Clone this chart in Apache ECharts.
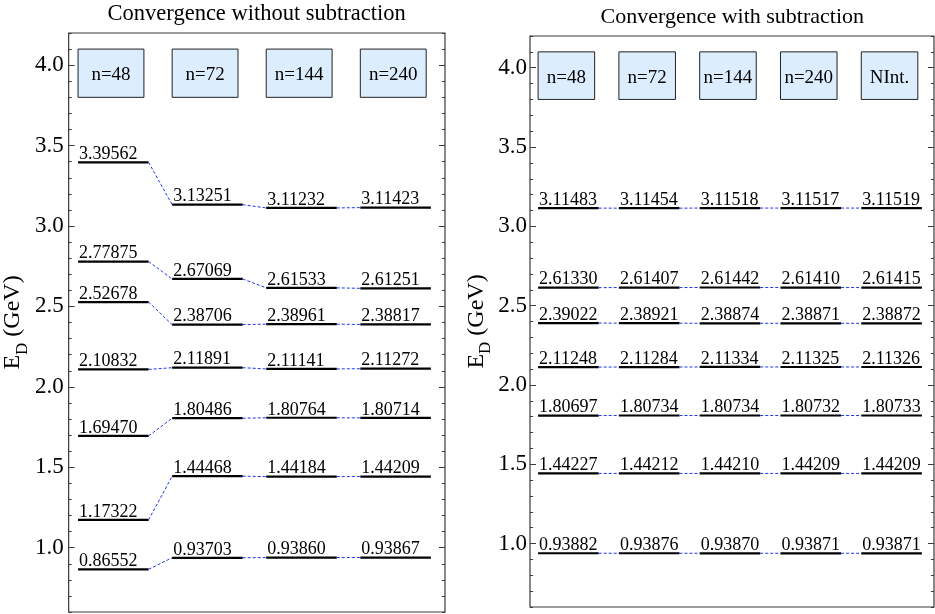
<!DOCTYPE html>
<html>
<head>
<meta charset="utf-8">
<title>Convergence</title>
<script src="https://cdn.jsdelivr.net/npm/echarts@6/dist/echarts.min.js"></script>
<style>
  html, body { margin: 0; padding: 0; background: #fff; }
  #main { width: 935px; height: 614px; }
</style>
</head>
<body>
<div id="main"></div>
<script>
// energy levels, one array per column (GeV)
var woLabels = ['n=48', 'n=72', 'n=144', 'n=240'];
var wo48  = [0.86552, 1.17322, 1.69470, 2.10832, 2.52678, 2.77875, 3.39562];
var wo72  = [0.93703, 1.44468, 1.80486, 2.11891, 2.38706, 2.67069, 3.13251];
var wo144 = [0.93860, 1.44184, 1.80764, 2.11141, 2.38961, 2.61533, 3.11232];
var wo240 = [0.93867, 1.44209, 1.80714, 2.11272, 2.38817, 2.61251, 3.11423];

var wLabels = ['n=48', 'n=72', 'n=144', 'n=240', 'NInt.'];
var w48   = [0.93882, 1.44227, 1.80697, 2.11248, 2.39022, 2.61330, 3.11483];
var w72   = [0.93876, 1.44212, 1.80734, 2.11284, 2.38921, 2.61407, 3.11454];
var w144  = [0.93870, 1.44210, 1.80734, 2.11334, 2.38874, 2.61442, 3.11518];
var w240  = [0.93871, 1.44209, 1.80732, 2.11325, 2.38871, 2.61410, 3.11517];
var wNInt = [0.93871, 1.44209, 1.80733, 2.11326, 2.38872, 2.61415, 3.11519];

var majorLabels = ['1.0', '1.5', '2.0', '2.5', '3.0', '3.5', '4.0'];

var FONT = 'Liberation Serif, serif';
var FRAME = '#3a3a3a';

// tick categories 0.6 .. 4.2 (step 0.1) used for the major ticks / labels
var yCats = [];
for (var i = 6; i <= 42; i++) yCats.push((i / 10).toFixed(1));
function isMajor(idx, val) { return majorLabels.indexOf(val) >= 0; }

function levelData(cols) {
  var d = [];
  cols.forEach(function (vals, c) {
    vals.forEach(function (v, k) {
      d.push([c, v, c + 1 < cols.length ? cols[c + 1][k] : null]);
    });
  });
  return d;
}

function renderLevel(params, api) {
  var c = api.value(0), v = api.value(1), nx = api.value(2);
  var p0 = api.coord([c + 0.1, v]);
  var p1 = api.coord([c + 0.85, v]);
  var kids = [{
    type: 'line',
    shape: { x1: p0[0], y1: p0[1], x2: p1[0], y2: p1[1] },
    style: { stroke: '#000', lineWidth: 2.2 }
  }, {
    type: 'text',
    style: {
      text: v.toFixed(5), x: p0[0] + 1, y: p0[1] + 1,
      align: 'left', verticalAlign: 'bottom',
      fontSize: 18, fontFamily: FONT, fill: '#000'
    }
  }];
  if (isFinite(nx) && nx !== null) {
    var p2 = api.coord([c + 1.1, nx]);
    kids.push({
      type: 'line',
      shape: { x1: p1[0], y1: p1[1], x2: p2[0], y2: p2[1] },
      style: { stroke: '#2035f5', lineWidth: 1, lineDash: [3, 2] }
    });
  }
  return { type: 'group', children: kids };
}

function boxRenderer(labels) {
  return function (params, api) {
    var c = api.value(0);
    var a = api.coord([c + 0.1, 4.1]);
    var b = api.coord([c + 0.8, 3.8]);
    return {
      type: 'group',
      children: [{
        type: 'rect',
        shape: { x: a[0], y: a[1], width: b[0] - a[0], height: b[1] - a[1] },
        style: { fill: '#dcedfd', stroke: '#222', lineWidth: 1 }
      }, {
        type: 'text',
        z2: 10,
        style: {
          text: labels[params.dataIndex], x: (a[0] + b[0]) / 2, y: (a[1] + b[1]) / 2 + 2,
          align: 'center', verticalAlign: 'middle',
          fontSize: 19, fontFamily: FONT, fill: '#000'
        }
      }]
    };
  };
}

function valueY(grid, pos) {
  return {
    type: 'value', gridIndex: grid, position: pos, min: 0.6, max: 4.2, interval: 0.1,
    axisLine: { show: false },
    axisTick: { show: true, inside: true, length: 3, lineStyle: { color: FRAME, width: 1 } },
    axisLabel: { show: false }, splitLine: { show: false }
  };
}

function majorY(grid, pos, withLabels, margin, nameGap) {
  var ax = {
    type: 'category', gridIndex: grid, position: pos, data: yCats, boundaryGap: false,
    axisLine: { show: false },
    axisTick: { show: true, inside: true, length: 6, interval: isMajor, lineStyle: { color: FRAME, width: 1 } },
    axisLabel: {
      show: withLabels, interval: isMajor, margin: margin,
      formatter: function (val) { return '{t|' + val + '}'; },
      rich: { t: { fontSize: 23, fontFamily: FONT, color: '#000' } },
      fontSize: 23, fontFamily: FONT, color: '#000'
    },
    splitLine: { show: false }
  };
  if (withLabels) {
    ax.name = '{a|E}{b|D}{a| (GeV)}';
    ax.nameLocation = 'middle';
    ax.nameGap = nameGap;
    ax.nameTextStyle = {
      color: '#000', fontFamily: FONT, fontSize: 24,
      rich: {
        a: { fontFamily: FONT, fontSize: 24, lineHeight: 36, color: '#000' },
        b: { fontFamily: FONT, fontSize: 17, lineHeight: 17, verticalAlign: 'bottom', color: '#000' }
      }
    };
  }
  return ax;
}

var chart = echarts.init(document.getElementById('main'), null, { renderer: 'canvas' });

chart.setOption({
  animation: false,
  backgroundColor: '#fff',
  textStyle: { fontFamily: FONT },
  title: [{
    text: 'Convergence without subtraction', left: 256.7, top: 3, textAlign: 'center', padding: 0,
    textStyle: { fontFamily: FONT, fontSize: 22.5, fontWeight: 'normal', color: '#000' }
  }, {
    text: 'Convergence with subtraction', left: 732.3, top: 6, textAlign: 'center', padding: 0,
    textStyle: { fontFamily: FONT, fontSize: 22, fontWeight: 'normal', color: '#000' }
  }],
  grid: [
    { left: 68, top: 33, width: 377, height: 579, show: true, borderColor: FRAME, borderWidth: 1.2, backgroundColor: 'transparent' },
    { left: 530, top: 36, width: 404, height: 571, show: true, borderColor: FRAME, borderWidth: 1.2, backgroundColor: 'transparent' }
  ],
  xAxis: [
    { type: 'value', gridIndex: 0, min: 0, max: woLabels.length, show: false },
    { type: 'value', gridIndex: 1, min: 0, max: wLabels.length, show: false }
  ],
  yAxis: [
    valueY(0, 'left'), valueY(0, 'right'),
    majorY(0, 'left', true, 5, 31), majorY(0, 'right', false, 5, 0),
    valueY(1, 'left'), valueY(1, 'right'),
    majorY(1, 'left', true, 3, 31), majorY(1, 'right', false, 3, 0)
  ],
  series: [
    {
      type: 'custom', xAxisIndex: 0, yAxisIndex: 0, clip: false, z: 3,
      data: woLabels.map(function (s, i) { return [i, 4]; }),
      renderItem: boxRenderer(woLabels)
    },
    {
      type: 'custom', xAxisIndex: 0, yAxisIndex: 0, clip: false,
      data: levelData([wo48, wo72, wo144, wo240]),
      renderItem: renderLevel
    },
    {
      type: 'custom', xAxisIndex: 1, yAxisIndex: 4, clip: false, z: 3,
      data: wLabels.map(function (s, i) { return [i, 4]; }),
      renderItem: boxRenderer(wLabels)
    },
    {
      type: 'custom', xAxisIndex: 1, yAxisIndex: 4, clip: false,
      data: levelData([w48, w72, w144, w240, wNInt]),
      renderItem: renderLevel
    }
  ]
});
</script>
</body>
</html>
